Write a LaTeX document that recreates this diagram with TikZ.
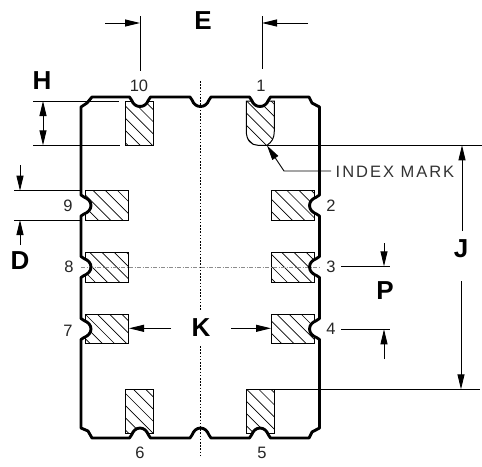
\documentclass[tikz,border=0pt]{standalone}
\usepackage{fontspec}
\setmainfont{Liberation Sans}
\usetikzlibrary{arrows.meta}
\newcommand{\notchT}[1]{-- (#1-10.5,97) -- (#1-8.5,100) .. controls (#1-7,104) and (#1-4,106.5) .. (#1,106.5) .. controls (#1+4,106.5) and (#1+7,104) .. (#1+8.5,100) -- (#1+10.5,97)}
\newcommand{\notchB}[1]{-- (#1+10.5,438) -- (#1+8.5,435) .. controls (#1+7,431) and (#1+4,428) .. (#1,428) .. controls (#1-4,428) and (#1-7,431) .. (#1-8.5,435) -- (#1-10.5,438)}
\newcommand{\notchR}[1]{-- (319.5,#1-10.5) -- (316.5,#1-8.5) .. controls (312.5,#1-7) and (309.5,#1-4) .. (309.5,#1) .. controls (309.5,#1+4) and (312.5,#1+7) .. (316.5,#1+8.5) -- (319.5,#1+10.5)}
\newcommand{\notchL}[1]{-- (81,#1+10.5) -- (84,#1+8.5) .. controls (88,#1+7) and (91,#1+4) .. (91,#1) .. controls (91,#1-4) and (88,#1-7) .. (84,#1-8.5) -- (81,#1-10.5)}
\newcommand{\outlinepath}{(92,97) \notchT{140} \notchT{200.5} \notchT{260} -- (309,97) -- (312,103) -- (319.5,107)
 \notchR{205.5} \notchR{267} \notchR{329} -- (319.5,428) -- (312,432) -- (309,438)
 \notchB{260} \notchB{200.5} \notchB{140} -- (92,438) -- (88,431) -- (81,428)
 \notchL{329} \notchL{267} \notchL{205.5} -- (81,107) -- (87,103) -- cycle}
\tikzset{
 x=1pt,y=-1pt,
 dim/.style={line width=0.9pt,black},
 arr/.style={dim,-{Triangle[length=15pt,width=7pt]}},
 outl/.style={line width=2.9pt,line join=round,black},
 padl/.style={line width=1pt,black},
 hat/.style={line width=0.7pt,black},
 big/.style={font=\fontsize{26}{26}\selectfont\bfseries,inner sep=0pt},
 num/.style={font=\fontsize{16.5}{16.5}\selectfont,inner sep=0pt,black!85},
}
\newcommand{\hatchpad}[5]{% x1,y1,x2,y2,phase
 \begin{scope}
 \clip (#1,#2) rectangle (#3,#4);
 \foreach \k in {-10,...,20} \draw[hat] ({#1+#5+12.2*\k},#2) -- ++(60,60);
 \end{scope}
 \draw[padl] (#1,#2) rectangle (#3,#4);
}
\begin{document}
\begin{tikzpicture}
\useasboundingbox (0,0) rectangle (482,466);
\fill[white] (0,0) rectangle (482,466);
% pads
\hatchpad{125.5}{101}{153.7}{145.3}{7}
\hatchpad{85.7}{190.7}{128.7}{220}{7.6}
\hatchpad{85.7}{252.3}{128.7}{282.3}{4}
\hatchpad{85.7}{314.7}{128.7}{343.7}{0}
\hatchpad{125.5}{389.3}{153.7}{433.7}{8}
\hatchpad{271.3}{190.7}{314.3}{220}{3.7}
\hatchpad{271.3}{252.3}{314.3}{282.3}{10.4}
\hatchpad{271.3}{314.7}{314.3}{343.7}{6}
\hatchpad{246.3}{389.3}{274.3}{433.7}{0.3}
\begin{scope}
 \clip (246.3,101) -- (246.3,131) .. controls (246.3,140) and (251,145.3) .. (258,145.3) -- (267,145.3) .. controls (272,142) and (274.3,138) .. (274.3,131) -- (274.3,101) -- cycle;
 \foreach \k in {-10,...,20} \draw[hat] ({246.3+0.3+12.2*\k},101) -- ++(60,60);
\end{scope}
\draw[padl] (246.3,101) -- (246.3,131) .. controls (246.3,140) and (251,145.3) .. (258,145.3) -- (267,145.3) .. controls (272,142) and (274.3,138) .. (274.3,131) -- (274.3,101) -- cycle;
% white outside of the outline, then the outline
\fill[white,even odd rule] (0,0) rectangle (482,466) \outlinepath;
% centre lines
\coordinate (cT) at (200.5,81); \coordinate (cK1) at (200.5,310);
\coordinate (cK2) at (200.5,346); \coordinate (cB) at (200.5,455);
\draw[line width=0.8pt,dash pattern=on 1.6pt off 1.6pt,black] (cT) -- (cK1) (cK2) -- (cB);
\coordinate (hL) at (81,267.7); \coordinate (hR) at (319,267.7);
\draw[line width=0.9pt,dash pattern=on 4pt off 1.5pt on 1pt off 1.5pt,black!45] (hL) -- (hR);
\draw[outl] \outlinepath;
% E
\coordinate (e1) at (140,16); \coordinate (e2) at (140,71); \coordinate (e3) at (105,23); \coordinate (e4) at (140,23);
\draw[dim] (e1) -- (e2); \draw[arr] (e3) -- (e4);
\coordinate (e5) at (262,16); \coordinate (e6) at (262,69); \coordinate (e7) at (308,23); \coordinate (e8) at (262,23);
\draw[dim] (e5) -- (e6); \draw[arr] (e7) -- (e8);
% H
\coordinate (h1) at (33,101); \coordinate (h2) at (119,101); \coordinate (h3) at (33,145.3); \coordinate (h4) at (120,145.3);
\draw[dim] (h1) -- (h2) (h3) -- (h4);
\coordinate (h5) at (43,123); \coordinate (h6) at (43,101); \coordinate (h7) at (43,145.3);
\draw[arr] (h5) -- (h6); \draw[arr] (h5) -- (h7);
% D
\coordinate (d1) at (14,190.7); \coordinate (d2) at (80,190.7); \coordinate (d3) at (14,220); \coordinate (d4) at (80,220);
\draw[dim] (d1) -- (d2) (d3) -- (d4);
\coordinate (d5) at (20,165); \coordinate (d6) at (20,190.7); \coordinate (d7) at (20,245); \coordinate (d8) at (20,220);
\draw[arr] (d5) -- (d6); \draw[arr] (d7) -- (d8);
% P
\coordinate (p1) at (341,266.3); \coordinate (p2) at (390,266.3); \coordinate (p3) at (341,329.3); \coordinate (p4) at (390,329.3);
\draw[dim] (p1) -- (p2) (p3) -- (p4);
\coordinate (p5) at (384,243); \coordinate (p6) at (384,266.3); \coordinate (p7) at (384,359); \coordinate (p8) at (384,329.3);
\draw[arr] (p5) -- (p6); \draw[arr] (p7) -- (p8);
% J
\coordinate (j1) at (262,145.3); \coordinate (j2) at (482,145.3); \coordinate (j3) at (274.3,389.3); \coordinate (j4) at (480,389.3);
\draw[dim] (j1) -- (j2) (j3) -- (j4);
\coordinate (j5) at (462,231); \coordinate (j6) at (462,145.3); \coordinate (j7) at (461,281); \coordinate (j8) at (461,389.3);
\draw[arr] (j5) -- (j6); \draw[arr] (j7) -- (j8);
% K
\coordinate (k1) at (171,328.3); \coordinate (k2) at (129,328.3); \coordinate (k3) at (231,328.3); \coordinate (k4) at (271,328.3);
\draw[arr] (k1) -- (k2); \draw[arr] (k3) -- (k4);
% index
\coordinate (i1) at (331,171); \coordinate (i2) at (284,171); \coordinate (i3) at (267,145.5);
\draw[arr] (i1) -- (i2) -- (i3);
\node[inner sep=0pt,black!80] (idx) at (395,171.5) {\fontsize{16.5}{16.5}\selectfont\addfontfeature{LetterSpace=12}INDEX MARK};
% big letters
\node[big] (lE) at (203,21) {E};
\node[big] (lH) at (42,81) {H};
\node[big] (lD) at (20,261) {D};
\node[big] (lK) at (201,328) {K};
\node[big] (lP) at (385,291) {P};
\node[big] (lJ) at (461,249) {J};
% pin numbers
\node[num] (n10) at (139,86) {10};
\node[num] (n1) at (261,86) {1};
\node[num] (n9) at (68,206) {9};
\node[num] (n2) at (331,206) {2};
\node[num] (n8) at (69,266.5) {8};
\node[num] (n3) at (331,267) {3};
\node[num] (n7) at (68,331) {7};
\node[num] (n4) at (331,329) {4};
\node[num] (n6) at (140,453) {6};
\node[num] (n5) at (262,453) {5};
\end{tikzpicture}
\end{document}
